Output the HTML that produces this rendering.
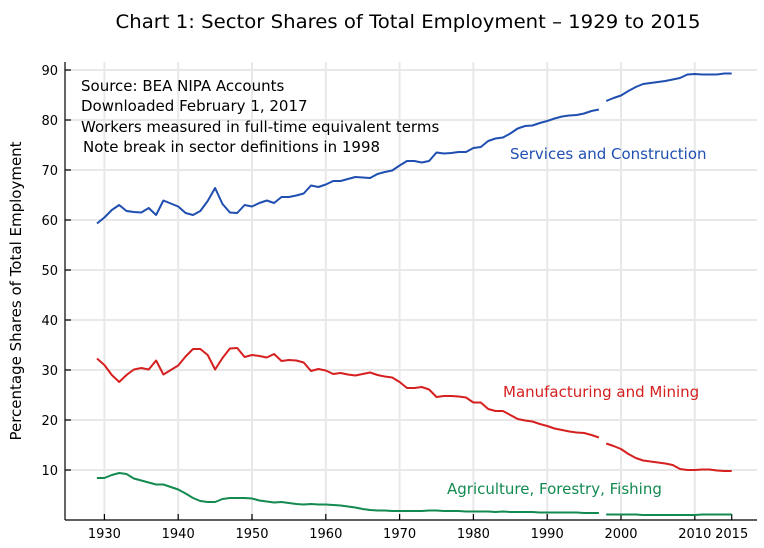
<!DOCTYPE html>
<html><head><meta charset="utf-8"><style>
html,body{margin:0;padding:0;background:#fff;}
svg{display:block;font-family:"DejaVu Sans","Liberation Sans",sans-serif;}
</style></head><body>
<svg id="s" width="764" height="548" viewBox="0 0 764 548" xmlns="http://www.w3.org/2000/svg">
<rect width="764" height="548" fill="#fff"/>
<text x="408" y="28" font-size="19" text-anchor="middle" textLength="585" lengthAdjust="spacingAndGlyphs">Chart 1:  Sector Shares of Total Employment – 1929 to 2015</text>
<g id="grid" stroke="#e8e8e8" stroke-width="2"></g>
<g id="axes" stroke="#000" stroke-width="1.2" fill="none">
<line x1="65" y1="62" x2="65" y2="520"/>
<line x1="65" y1="520" x2="757" y2="520"/>
</g>
<g id="ticks" stroke="#000" stroke-width="1.2"></g>
<g id="labels" font-size="13" fill="#000"></g>
<text transform="translate(21,291) rotate(-90)" font-size="15" text-anchor="middle">Percentage Shares of Total Employment</text>
<g font-size="15" fill="#000">
<text x="81" y="91">Source: BEA NIPA Accounts</text>
<text x="81" y="111">Downloaded February 1, 2017</text>
<text x="81" y="132">Workers measured in full-time equivalent terms</text>
<text x="83" y="152">Note break in sector definitions in 1998</text>
</g>
<text x="510" y="159" font-size="15" fill="#1f4fb0">Services and Construction</text>
<text x="503" y="397" font-size="15" fill="#d62020">Manufacturing and Mining</text>
<text x="447" y="494" font-size="15" fill="#138a50">Agriculture, Forestry, Fishing</text>
<g id="lines" fill="none" stroke-width="2" stroke-linejoin="round"></g>
</svg>
<script>
var NS="http://www.w3.org/2000/svg";
function X(y){return 621+(y-2000)*7.38;}
function Y(v){return 520-v*5;}
function el(p,t,a,txt){var e=document.createElementNS(NS,t);for(var k in a)e.setAttribute(k,a[k]);if(txt)e.textContent=txt;document.getElementById(p).appendChild(e);}
for(var y=1930;y<=2010;y+=10){el("grid","line",{x1:X(y),y1:62,x2:X(y),y2:519});}
for(var v=10;v<=90;v+=10){el("grid","line",{x1:66,y1:Y(v),x2:757,y2:Y(v)});
el("ticks","line",{x1:65,y1:Y(v),x2:71,y2:Y(v)});
el("labels","text",{x:58,y:Y(v)+5,"text-anchor":"end"},""+v);}
var yrs=[1930,1940,1950,1960,1970,1980,1990,2000,2010,2015];
yrs.forEach(function(y){el("ticks","line",{x1:X(y),y1:520,x2:X(y),y2:514});
el("labels","text",{x:X(y),y:538,"text-anchor":"middle"},""+y);});
var S1=[59.3,60.5,62,63,61.8,61.6,61.5,62.4,61,63.9,63.3,62.7,61.4,61,61.8,63.8,66.4,63.2,61.5,61.4,63,62.7,63.4,63.9,63.4,64.6,64.6,64.9,65.3,66.9,66.6,67.1,67.8,67.8,68.2,68.6,68.5,68.4,69.2,69.6,69.9,70.9,71.8,71.8,71.5,71.8,73.5,73.3,73.4,73.6,73.6,74.4,74.6,75.8,76.3,76.5,77.3,78.3,78.8,78.9,79.4,79.8,80.3,80.7,80.9,81,81.3,81.8,82.1];
var S2=[83.8,84.4,84.9,85.8,86.6,87.2,87.4,87.6,87.8,88.1,88.4,89.1,89.2,89.1,89.1,89.1,89.3,89.3];
var M1=[32.3,31,29,27.6,29,30.1,30.4,30.1,31.9,29.1,30,30.9,32.7,34.2,34.2,33,30.1,32.4,34.3,34.4,32.6,33,32.8,32.5,33.2,31.8,32,31.9,31.5,29.8,30.2,29.9,29.2,29.4,29.1,28.9,29.2,29.5,29,28.7,28.5,27.6,26.4,26.4,26.6,26.1,24.6,24.8,24.8,24.7,24.5,23.5,23.5,22.2,21.8,21.8,21,20.2,19.9,19.7,19.2,18.8,18.3,18,17.7,17.5,17.4,17,16.5];
var M2=[15.3,14.8,14.2,13.2,12.4,11.9,11.7,11.5,11.3,11,10.2,10,10,10.1,10.1,9.9,9.8,9.8];
var A1=[8.4,8.4,9,9.4,9.2,8.3,7.9,7.5,7.1,7.1,6.6,6.1,5.3,4.4,3.8,3.6,3.6,4.2,4.4,4.4,4.4,4.3,3.9,3.7,3.5,3.6,3.4,3.2,3.1,3.2,3.1,3.1,3,2.9,2.7,2.5,2.2,2,1.9,1.9,1.8,1.8,1.8,1.8,1.8,1.9,1.9,1.8,1.8,1.8,1.7,1.7,1.7,1.7,1.6,1.7,1.6,1.6,1.6,1.6,1.5,1.5,1.5,1.5,1.5,1.5,1.4,1.4,1.4];
var A2=[1.1,1.1,1.1,1.1,1.1,1.0,1.0,1.0,1.0,1.0,1.0,1.0,1.0,1.1,1.1,1.1,1.1,1.1];
function line(d,start,col){var p="";d.forEach(function(v,i){p+=(i?"L":"M")+X(start+i).toFixed(1)+","+Y(v).toFixed(1);});el("lines","path",{d:p,stroke:col});}
line(S1,1929,"#1f4fb0");line(S2,1998,"#1f4fb0");
line(M1,1929,"#d62020");line(M2,1998,"#d62020");
line(A1,1929,"#138a50");line(A2,1998,"#138a50");
</script>
</body></html>
